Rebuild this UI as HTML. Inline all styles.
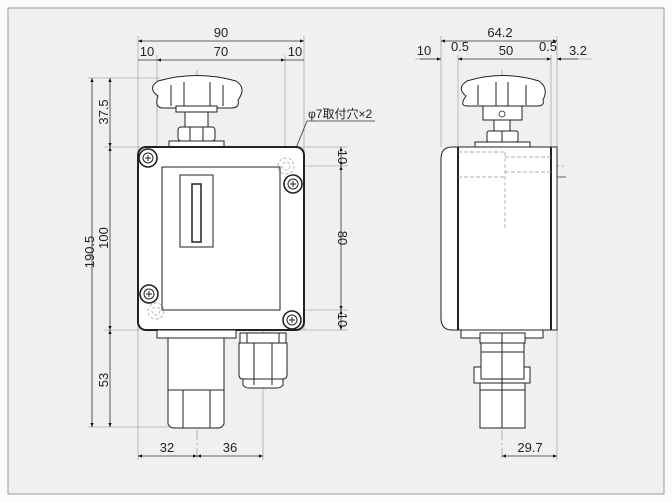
<!DOCTYPE html>
<html><head><meta charset="utf-8"><style>
html,body{margin:0;padding:0;background:#fafafa;}
svg{display:block}
text{font-family:"Liberation Sans","Noto Sans CJK JP",sans-serif;font-size:13px;fill:#222}
</style></head><body>
<svg width="672" height="502" viewBox="0 0 672 502" xmlns="http://www.w3.org/2000/svg">
<defs>
<marker id="a" viewBox="0 0 10 10" refX="10" refY="5" markerWidth="7" markerHeight="5" orient="auto-start-reverse"><path d="M0,1 L10,5 L0,9z" fill="#111"/></marker>
</defs>
<rect x="0" y="0" width="672" height="502" fill="#fbfbfb"/>
<rect x="8" y="8" width="656" height="486" fill="#eff0f0" stroke="#9a9a9a" stroke-width="1"/>

<g stroke="#aaa" stroke-width="0.8" fill="none">
<line x1="138" y1="36" x2="138" y2="460"/><line x1="157" y1="55" x2="157" y2="147"/>
<line x1="285" y1="55" x2="285" y2="166"/><line x1="304" y1="36" x2="304" y2="330"/>
<line x1="88" y1="78" x2="160" y2="78"/><line x1="104" y1="147" x2="140" y2="147"/>
<line x1="104" y1="330" x2="140" y2="330"/><line x1="88" y1="427" x2="180" y2="427"/>
<line x1="300" y1="147" x2="348" y2="147"/><line x1="290" y1="166" x2="348" y2="166"/>
<line x1="300" y1="310" x2="348" y2="310"/><line x1="300" y1="330" x2="348" y2="330"/>
<line x1="263" y1="300" x2="263" y2="460"/>
<line x1="441" y1="36" x2="441" y2="147"/><line x1="458" y1="55" x2="458" y2="147"/>
<line x1="551" y1="55" x2="551" y2="147"/><line x1="557" y1="36" x2="557" y2="460"/>
<line x1="415" y1="59" x2="441" y2="59"/><line x1="557" y1="59" x2="592" y2="59"/>
</g>
<g stroke="#999" stroke-width="0.7" stroke-dasharray="10,3,2,3" fill="none">
<line x1="197" y1="70" x2="197" y2="460"/>
<line x1="502" y1="70" x2="502" y2="460"/>
<line x1="441" y1="166" x2="566" y2="166"/>
</g>

<g stroke="#333" stroke-width="0.8" fill="none">
<line x1="138" y1="41" x2="304" y2="41" marker-start="url(#a)" marker-end="url(#a)"/>
<line x1="157" y1="60" x2="285" y2="60" marker-start="url(#a)" marker-end="url(#a)"/>
<line x1="138" y1="60" x2="157" y2="60"/><line x1="285" y1="60" x2="304" y2="60"/>
<line x1="92" y1="78" x2="92" y2="427" marker-start="url(#a)" marker-end="url(#a)"/>
<line x1="110" y1="78" x2="110" y2="147" marker-start="url(#a)" marker-end="url(#a)"/>
<line x1="110" y1="147" x2="110" y2="330" marker-start="url(#a)" marker-end="url(#a)"/>
<line x1="110" y1="330" x2="110" y2="427" marker-start="url(#a)" marker-end="url(#a)"/>
<line x1="341" y1="147" x2="341" y2="166" marker-start="url(#a)" marker-end="url(#a)"/>
<line x1="341" y1="166" x2="341" y2="310" marker-start="url(#a)" marker-end="url(#a)"/>
<line x1="341" y1="310" x2="341" y2="330" marker-start="url(#a)" marker-end="url(#a)"/>
<line x1="138" y1="456" x2="197" y2="456" marker-start="url(#a)" marker-end="url(#a)"/>
<line x1="197" y1="456" x2="263" y2="456" marker-start="url(#a)" marker-end="url(#a)"/>
<line x1="441" y1="41" x2="557" y2="41" marker-start="url(#a)" marker-end="url(#a)"/>
<line x1="458" y1="59" x2="551" y2="59" marker-start="url(#a)" marker-end="url(#a)"/>
<line x1="420" y1="59" x2="441" y2="59" marker-end="url(#a)"/>
<line x1="578" y1="59" x2="557" y2="59" marker-end="url(#a)"/>
<line x1="505" y1="196" x2="557" y2="196" marker-start="url(#a)" marker-end="url(#a)"/>
<line x1="502" y1="456" x2="557" y2="456" marker-start="url(#a)" marker-end="url(#a)"/>
<polyline points="375,121 307,121 291,160" marker-end="url(#a)"/>
<line x1="505" y1="177" x2="566" y2="177"/>
</g>

<text x="221" y="37" text-anchor="middle">90</text>
<text x="147" y="56" text-anchor="middle">10</text>
<text x="221" y="56" text-anchor="middle">70</text>
<text x="295" y="56" text-anchor="middle">10</text>
<text transform="translate(94,252) rotate(-90)" text-anchor="middle">190.5</text>
<text transform="translate(108,112) rotate(-90)" text-anchor="middle">37.5</text>
<text transform="translate(108,238) rotate(-90)" text-anchor="middle">100</text>
<text transform="translate(108,380) rotate(-90)" text-anchor="middle">53</text>
<text transform="translate(338,157) rotate(90)" text-anchor="middle">10</text>
<text transform="translate(338,238) rotate(90)" text-anchor="middle">80</text>
<text transform="translate(338,320) rotate(90)" text-anchor="middle">10</text>
<text x="167" y="452" text-anchor="middle">32</text>
<text x="230" y="452" text-anchor="middle">36</text>
<text x="308" y="118" style="font-size:12px">φ7取付穴×2</text>
<text x="500" y="37" text-anchor="middle">64.2</text>
<text x="424" y="55" text-anchor="middle">10</text>
<text x="460" y="51" text-anchor="middle">0.5</text>
<text x="506" y="55" text-anchor="middle">50</text>
<text x="548" y="51" text-anchor="middle">0.5</text>
<text x="578" y="55" text-anchor="middle">3.2</text>
<text x="531" y="192" text-anchor="middle">28.7</text>
<text x="530" y="452" text-anchor="middle">29.7</text>

<g stroke="#222" stroke-width="1" fill="#fff">
<path d="M158,96 Q147,88 158,81 Q197,70 236,81 Q247,88 238,100 Q240,108 231,108 L163,108 Q154,108 158,96z"/>
<line x1="171" y1="85" x2="171" y2="106"/><line x1="184" y1="82" x2="184" y2="107"/>
<line x1="210" y1="82" x2="210" y2="107"/><line x1="223" y1="85" x2="223" y2="106"/>
<rect x="176" y="106" width="41" height="6"/>
<rect x="185" y="112" width="23" height="15"/>
<rect x="178" y="127" width="37" height="14" rx="3"/>
<line x1="190" y1="127" x2="190" y2="141"/><line x1="203" y1="127" x2="203" y2="141"/>
<rect x="169" y="141" width="55" height="6"/>
<rect x="138" y="147" width="166" height="183" rx="8" stroke-width="2"/>
<rect x="162" y="167" width="118" height="143"/>
<rect x="180" y="175" width="33" height="72"/>
<rect x="192" y="184" width="9" height="58" stroke-width="1.5"/>
<rect x="157" y="330" width="79" height="8"/>
<rect x="168" y="338" width="56" height="52"/>
<path d="M168,390 L224,390 L224,424 Q222,428 218,428 L174,428 Q170,428 168,424z"/>
<line x1="183" y1="390" x2="183" y2="428"/><line x1="210" y1="390" x2="210" y2="428"/>
<rect x="240" y="333" width="46" height="10"/>
<path d="M239,343 L287,343 L287,375 Q287,379 283,379 L243,379 Q239,379 239,375z"/>
<path d="M243,379 L283,379 L283,385 Q281,388 277,388 L249,388 Q245,388 243,385z"/>
<line x1="254" y1="343" x2="254" y2="385"/><line x1="272" y1="343" x2="272" y2="385"/>
<line x1="247" y1="333" x2="247" y2="343"/><line x1="279" y1="333" x2="279" y2="343"/>
</g>
<g stroke="#999" stroke-width="0.7" stroke-dasharray="3,2" fill="none">
<circle cx="286" cy="166" r="8"/><circle cx="286" cy="166" r="4"/>
<circle cx="156" cy="311" r="8"/><circle cx="156" cy="311" r="4"/>
</g>
<g stroke="#222" stroke-width="1.6" fill="#fff">
<circle cx="148" cy="158" r="9"/><circle cx="293" cy="184" r="9"/>
<circle cx="149" cy="294" r="9"/><circle cx="292" cy="320" r="9"/>
</g>
<g stroke="#222" stroke-width="1" fill="none">
<circle cx="148" cy="158" r="5"/><path d="M145,158h6M148,155v6"/>
<circle cx="293" cy="184" r="5"/><path d="M290,184h6M293,181v6"/>
<circle cx="149" cy="294" r="5"/><path d="M146,294h6M149,291v6"/>
<circle cx="292" cy="320" r="5"/><path d="M289,320h6M292,317v6"/>
</g>

<g stroke="#222" stroke-width="1" fill="#fff">
<path d="M466,96 Q456,88 467,81 Q502,70 539,81 Q549,88 543,100 Q545,106 537,106 L467,106 Q459,106 466,96z"/>
<line x1="478" y1="85" x2="478" y2="105"/><line x1="496" y1="82" x2="496" y2="106"/>
<line x1="508" y1="82" x2="508" y2="106"/><line x1="526" y1="85" x2="526" y2="105"/>
<rect x="483" y="106" width="39" height="14"/>
<rect x="494" y="120" width="16" height="11"/>
<rect x="487" y="131" width="31" height="11" rx="2"/>
<line x1="502" y1="131" x2="502" y2="142"/>
<rect x="475" y="142" width="55" height="5"/>
<path d="M458,147 L458,330 L452,330 Q441,330 441,318 L441,159 Q441,147 452,147z"/>
<rect x="458" y="147" width="93" height="183"/>
<rect x="551" y="147" width="6" height="183"/>
<line x1="458" y1="147" x2="458" y2="330" stroke-width="2"/>
<line x1="551" y1="147" x2="551" y2="330" stroke-width="2"/>
<rect x="461" y="330" width="82" height="8"/>
<rect x="480" y="333" width="45" height="10"/>
<rect x="481" y="343" width="43" height="24"/>
<path d="M474,367 L530,367 L530,383 L474,383z"/>
<rect x="481" y="352" width="43" height="27"/>
<rect x="480" y="383" width="45" height="7"/>
<rect x="480" y="390" width="45" height="38"/>
<line x1="502" y1="333" x2="502" y2="428"/>
</g>
<g stroke="#999" stroke-width="0.7" stroke-dasharray="4,2" fill="none">
<line x1="458" y1="152" x2="505" y2="152"/><line x1="505" y1="152" x2="505" y2="230"/>
<line x1="505" y1="157" x2="551" y2="157"/><line x1="505" y1="172" x2="551" y2="172"/>
<line x1="458" y1="177" x2="505" y2="177"/>
</g>
<circle cx="502" cy="114" r="3" fill="none" stroke="#222" stroke-width="0.8"/>
</svg>
</body></html>
